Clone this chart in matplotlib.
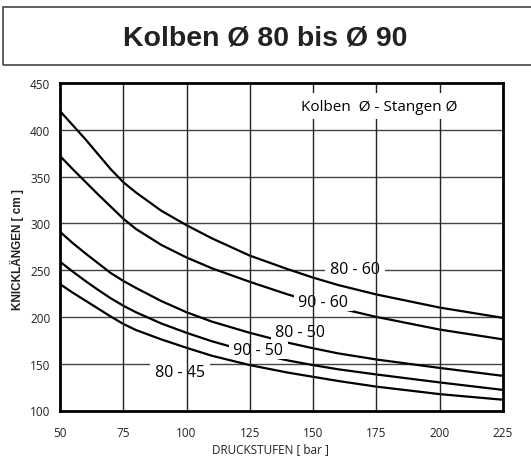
import matplotlib
matplotlib.use("Agg")
import matplotlib.pyplot as plt
from matplotlib.patches import Rectangle

# Druckstufen [bar]
druck = [50, 55, 60, 65, 70, 75, 80, 90, 100, 110, 125, 140, 150, 160, 175, 200, 225]

# Knicklaengen [cm] per Kolben - Stangen combination
kl_80_60 = [420, 405, 390, 374, 358, 344, 333, 313.5, 298, 284, 265.5, 251, 242, 234, 224, 210, 199]
kl_90_60 = [372, 358, 344.5, 331, 318, 305, 294, 277, 263.5, 252, 237.5, 224, 216.5, 209.5, 200, 186.5, 176]
kl_80_50 = [291, 279, 268, 257.5, 247, 238.5, 231, 217, 205, 195, 183, 172.5, 166.5, 161, 154.5, 145.5, 137]
kl_90_50 = [259, 248.5, 238.5, 229, 220, 212, 205, 193, 183, 174, 162.5, 153.5, 148.5, 144, 138.5, 130, 122]
kl_80_45 = [235, 226, 217.5, 209, 200.5, 192.5, 186, 176, 167, 158.5, 148.5, 140.5, 136, 131.5, 125.5, 117.5, 111.5]

series = [kl_80_60, kl_90_60, kl_80_50, kl_90_50, kl_80_45]

# curve labels: text, x, y
labels = [
    ("80 - 60", 166.6, 251.3),
    ("90 - 60", 154.0, 215.8),
    ("80 - 50", 144.9, 183.6),
    ("90 - 50", 128.3, 164.6),
    ("80 - 45", 97.4, 141.4),
]

x_ticks = [50, 75, 100, 125, 150, 175, 200, 225]
y_ticks = [100, 150, 200, 250, 300, 350, 400, 450]

W, H = 531, 460
fig = plt.figure(figsize=(W / 100, H / 100), dpi=100)

# title box
fig.patches.append(Rectangle((3 / W, (H - 66) / H), 1.0, 58 / H,
                             transform=fig.transFigure, fill=False,
                             edgecolor="#444444", lw=1.2))
fig.text(265 / W, (H - 38) / H, "Kolben Ø 80 bis Ø 90", ha="center", va="center",
         fontsize=20.5, fontweight="bold", family="Liberation Sans", color="#222222")

ax = fig.add_axes([60 / W, (H - 411.5) / H, (503 - 60) / W, (411.5 - 84) / H])
ax.set_xlim(50, 225)
ax.set_ylim(100, 450)

for y in y_ticks[1:-1]:
    ax.axhline(y, color="#444444", lw=1.0, zorder=1)
for x in x_ticks[1:-1]:
    ax.axvline(x, color="#222222", lw=1.0, zorder=4)

for vals in series:
    ax.plot(druck, vals, color="black", lw=1.6, zorder=2,
            solid_joinstyle="round")

for txt, x, y in labels:
    ax.text(x, y, f" {txt} ", ha="center", va="center", fontsize=11.5,
            family="Open Sans", zorder=3,
            bbox=dict(facecolor="white", edgecolor="none", pad=0.5))

ax.text(175.9, 425.3, "Kolben  Ø - Stangen Ø", ha="center", va="center",
        fontsize=11, family="Open Sans", zorder=5,
        bbox=dict(facecolor="white", edgecolor="none", pad=4))

ax.set_xticks(x_ticks)
ax.set_yticks(y_ticks)
ax.tick_params(axis="both", length=0, labelsize=8.5)
ax.tick_params(axis="x", pad=11)
ax.tick_params(axis="y", pad=7)
for lab in ax.get_xticklabels() + ax.get_yticklabels():
    lab.set_family("Open Sans")
    lab.set_color("#222222")

for side in ["left", "bottom", "right", "top"]:
    ax.spines[side].set_linewidth(2.0)
    ax.spines[side].set_zorder(6)

fig.text(270 / W, (H - 450) / H, "DRUCKSTUFEN [ bar ]", ha="center", va="center",
         fontsize=8.5, family="Open Sans", color="#222222")
fig.text(17 / W, (H - 250) / H, "KNICKLÄNGEN [ cm ]", ha="center", va="center",
         rotation=90, fontsize=8.5, fontweight="bold", family="Liberation Sans",
         color="#222222")

fig.savefig("out.png", dpi=100)
